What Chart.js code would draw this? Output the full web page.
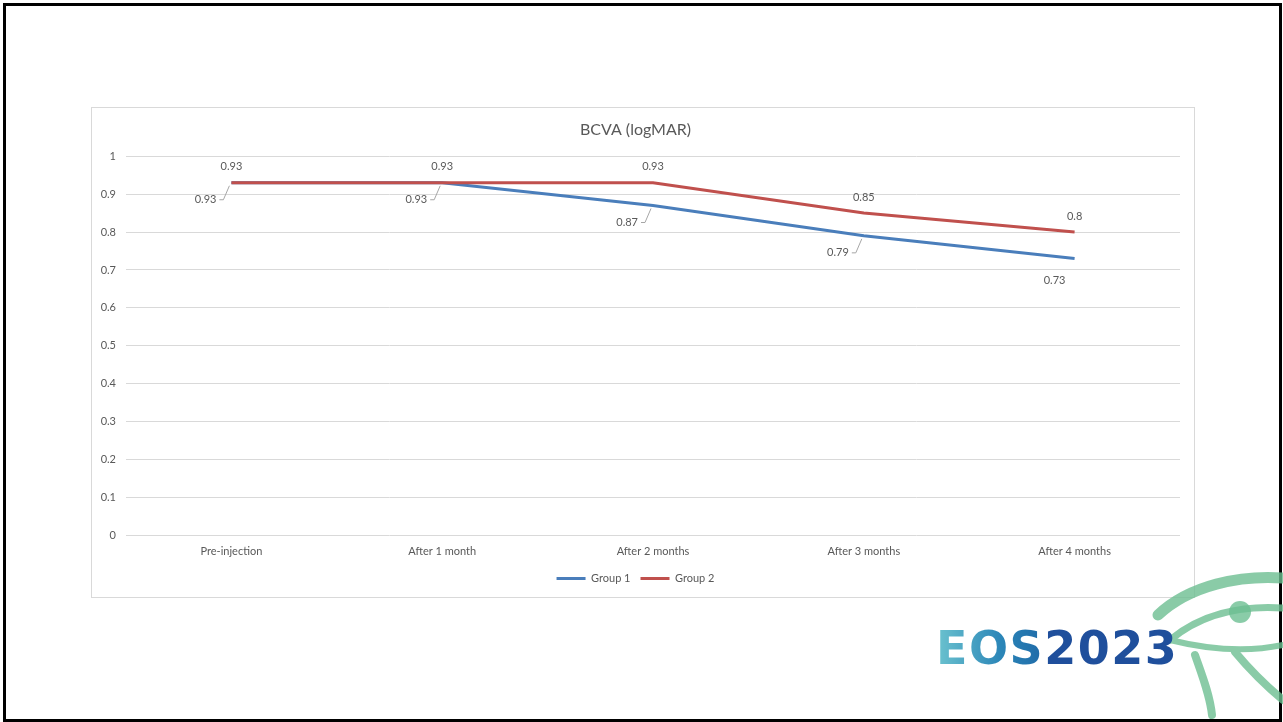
<!DOCTYPE html>
<html>
<head>
<meta charset="utf-8">
<script src="https://cdn.jsdelivr.net/npm/chart.js@4.4.1/dist/chart.umd.min.js"></script>
<style>
  html, body { margin: 0; padding: 0; background: #fff; }
  body { width: 1283px; height: 722px; position: relative; overflow: hidden; font-family: Lato, "Noto Sans", sans-serif; }
  #frame { position: absolute; left: 3px; top: 3px; width: 1279px; height: 719px; border: 3px solid #000; box-sizing: border-box; }
  #box { position: absolute; left: 91px; top: 107px; width: 1104px; height: 491px; border: 1px solid #d9d9d9; box-sizing: border-box; background: #fff; }
  #c { position: absolute; left: 91px; top: 107px; }
  #logo { position: absolute; left: 936px; top: 622px; font-family: "DejaVu Sans", sans-serif; font-weight: bold; font-size: 46px; letter-spacing: 1.5px; line-height: 52px; white-space: nowrap; }
  #logo .eos { background: linear-gradient(90deg, #6cc3cf, #2b86b8 60%, #1f6aa8); -webkit-background-clip: text; background-clip: text; color: transparent; }
  #logo .yr { color: #1f4f9c; }
  #eye { position: absolute; left: 1140px; top: 560px; }
</style>
</head>
<body>
<div id="frame"></div>
<div id="box"></div>
<canvas id="c" width="1104" height="491"></canvas>
<svg id="eye" width="143" height="162" viewBox="0 0 143 162">
  <g fill="none" stroke="#6dbf92" stroke-linecap="round" opacity="0.8">
    <path d="M 18 55 C 50 25, 100 15, 143 18" stroke-width="11"/>
    <path d="M 30 80 C 60 55, 100 45, 143 48" stroke-width="7"/>
    <path d="M 30 80 C 70 90, 110 92, 143 85" stroke-width="6"/>
    <path d="M 55 95 C 62 115, 70 135, 72 155" stroke-width="8"/>
    <path d="M 95 92 C 110 110, 125 125, 143 140" stroke-width="8"/>
  </g>
  <circle cx="100" cy="52" r="11" fill="#6dbf92" opacity="0.8"/>
</svg>
<div id="logo"><span class="eos">EOS</span><span class="yr">2023</span></div>
<script>
// BCVA (logMAR) follow-up, two groups
const categories = ["Pre-injection", "After 1 month", "After 2 months", "After 3 months", "After 4 months"];
const group1 = [0.93, 0.93, 0.87, 0.79, 0.73];
const group2 = [0.93, 0.93, 0.93, 0.85, 0.8];
const yTicks = { min: 0, max: 1, step: 0.1 };

const BLUE = "#4a7ebb";
const RED = "#c0504d";
const TEXT = "#595959";
const GRID = "#d9d9d9";
const FONT = "Lato, 'Noto Sans', sans-serif";

// value labels: group 2 above the line, group 1 below-left with a small leader line
const valueLabels = {
  id: "valueLabels",
  afterDatasetsDraw(chart) {
    const ctx = chart.ctx;
    ctx.save();
    ctx.font = "11px " + FONT;
    ctx.fillStyle = TEXT;
    ctx.textBaseline = "middle";

    chart.data.datasets.forEach((ds, di) => {
      const meta = chart.getDatasetMeta(di);
      meta.data.forEach((pt, i) => {
        const txt = String(ds.data[i]);
        if (di === 1) {
          ctx.textAlign = "center";
          ctx.fillText(txt, pt.x, pt.y - 16);
          return;
        }
        const last = i === meta.data.length - 1;
        if (last) {
          ctx.textAlign = "center";
          ctx.fillText(txt, pt.x - 20, pt.y + 22);
          return;
        }
        ctx.textAlign = "right";
        ctx.fillText(txt, pt.x - 15, pt.y + 17);
        ctx.strokeStyle = "#a6a6a6";
        ctx.lineWidth = 1;
        ctx.beginPath();
        ctx.moveTo(pt.x - 12, pt.y + 17);
        ctx.lineTo(pt.x - 8, pt.y + 17);
        ctx.lineTo(pt.x - 2, pt.y + 3);
        ctx.stroke();
      });
    });
    ctx.restore();
  },
};

new Chart(document.getElementById("c"), {
  type: "line",
  data: {
    labels: categories,
    datasets: [
      {
        label: "Group 1",
        data: group1,
        borderColor: BLUE,
        backgroundColor: BLUE,
        borderWidth: 3,
        pointRadius: 0,
        tension: 0,
        order: 1,
      },
      {
        label: "Group 2",
        data: group2,
        borderColor: RED,
        backgroundColor: RED,
        borderWidth: 3,
        pointRadius: 0,
        tension: 0,
        order: 0, // red drawn on top
      },
    ],
  },
  options: {
    responsive: false,
    animation: false,
    devicePixelRatio: 1,
    layout: { padding: { left: 0, right: 15, top: 0, bottom: 4 } },
    plugins: {
      tooltip: { enabled: false },
      title: {
        display: true,
        text: "BCVA (logMAR)",
        color: TEXT,
        font: { family: FONT, size: 16, weight: "normal" },
        padding: { top: 13, bottom: 17 },
      },
      legend: {
        position: "bottom",
        labels: {
          color: TEXT,
          font: { family: FONT, size: 11 },
          boxWidth: 29,
          boxHeight: 3,
          padding: 10,
          sort: (a, b) => a.datasetIndex - b.datasetIndex,
          generateLabels: (chart) =>
            Chart.defaults.plugins.legend.labels.generateLabels(chart).map((it) => ({
              ...it,
              lineWidth: 0,
              fillStyle: it.strokeStyle,
            })),
        },
      },
    },
    scales: {
      x: {
        offset: true,
        grid: { display: false, drawTicks: false },
        border: { display: false },
        ticks: { color: TEXT, font: { family: FONT, size: 11 }, padding: 9, maxRotation: 0 },
        afterFit: (s) => { s.height = 27.5; },
      },
      y: {
        min: yTicks.min,
        max: yTicks.max,
        grid: { color: GRID, lineWidth: 1, drawTicks: false },
        border: { display: false },
        ticks: {
          stepSize: yTicks.step,
          color: TEXT,
          font: { family: FONT, size: 11 },
          padding: 10,
          callback: (v) => String(Number(v.toFixed(1))),
        },
        afterFit: (s) => { s.width = 35; },
      },
    },
  },
  plugins: [valueLabels],
});
</script>
</body>
</html>
